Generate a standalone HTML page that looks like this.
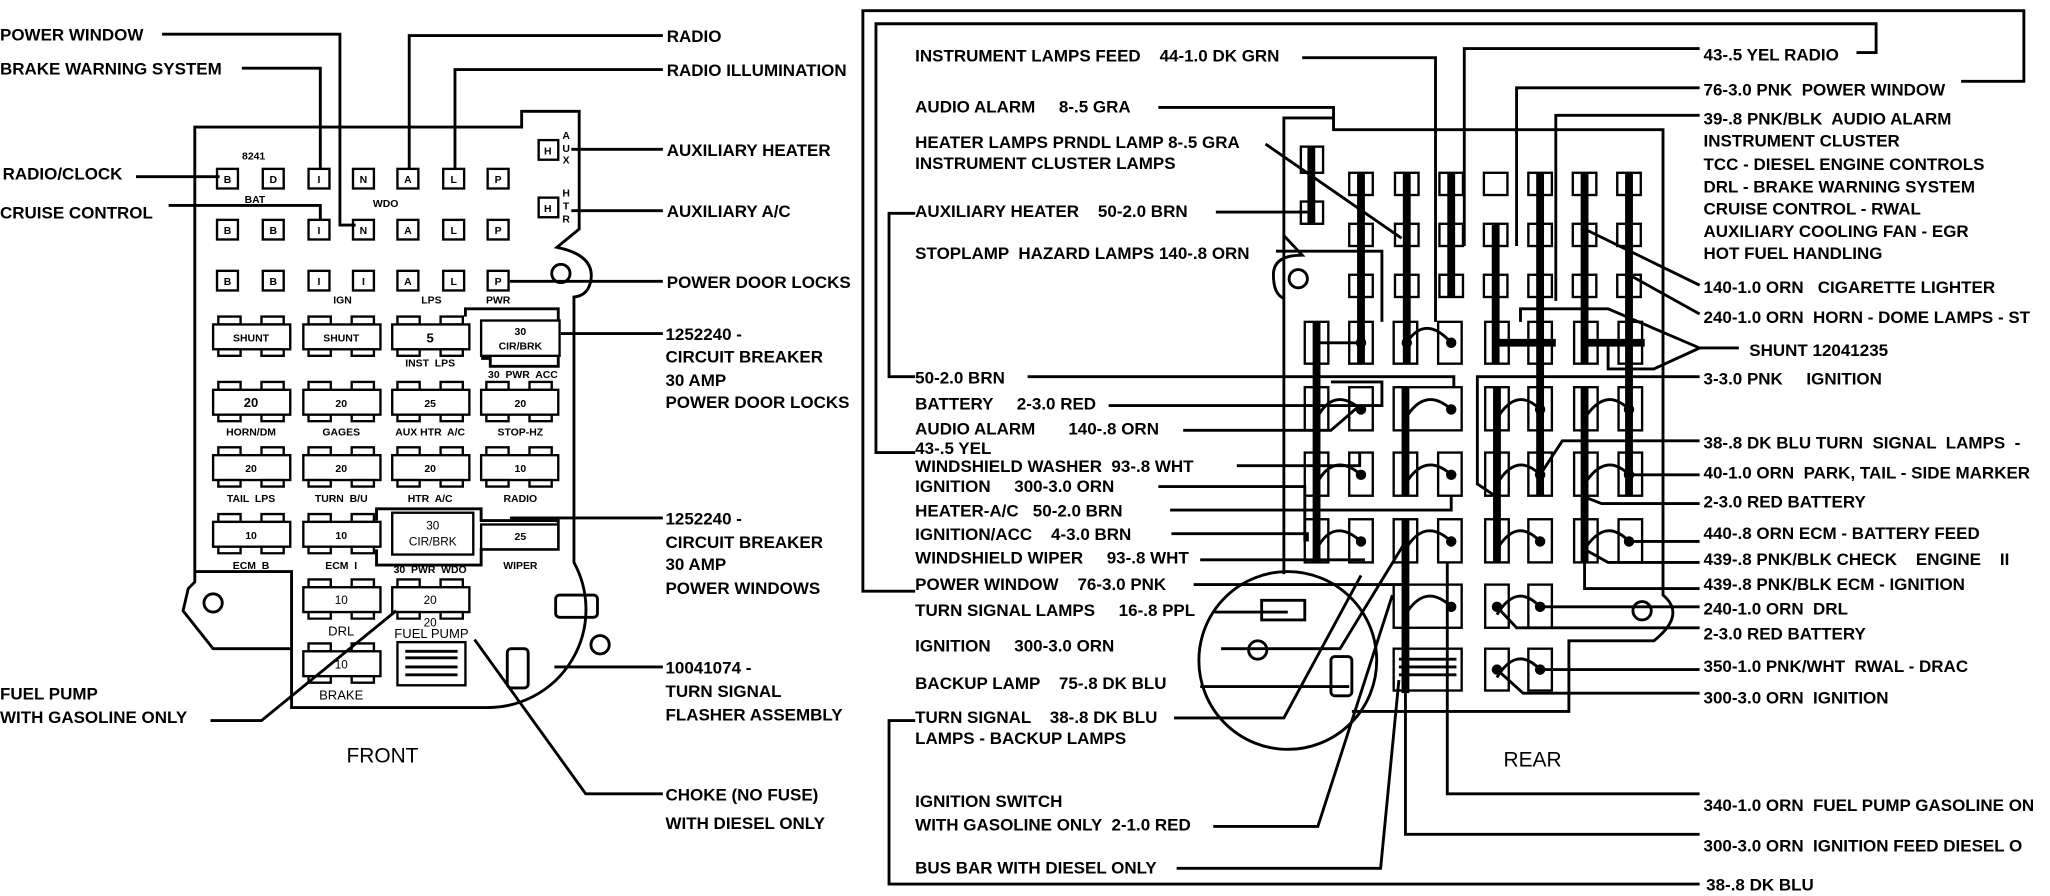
<!DOCTYPE html>
<html><head><meta charset="utf-8"><style>
html,body{margin:0;padding:0;background:#fff}
svg{display:block}
text{font-family:"Liberation Sans",sans-serif;font-size:13px;font-weight:bold;fill:#000;white-space:pre}
.s{font-size:8px}
.l{fill:none;stroke:#000;stroke-width:2.2}
.t{fill:none;stroke:#000;stroke-width:6}
.b{fill:#fff;stroke:#000;stroke-width:1.8}
</style></head><body>
<svg width="2050" height="896" viewBox="0 0 1568 685" xmlns="http://www.w3.org/2000/svg" xml:space="preserve">
<rect width="1568" height="685" fill="#fff"/>

<!-- ================= LEFT (FRONT) ================= -->
<path class="l" stroke-width="3" d="M149,445 L149,97 L399,97 L399,85 L443,85 L443,175 L426,189 Q455,195 452,214 Q450,226 439,227 L439,430 A75,75 0 0 1 373,541 L223,541 L223,496 L163,496 L140,467 L144,450 Z"/>
<path class="l" d="M149,437 L223,437 L223,496"/>
<circle cx="163" cy="461" r="7" class="l"/>
<circle cx="429" cy="209" r="7" class="l"/>
<circle cx="459" cy="493" r="7" class="l"/>
<rect x="425" y="455" width="32" height="17" rx="3" class="l"/>
<rect x="388" y="496" width="16" height="30" rx="3" class="l"/>

<g>
<rect class="b" x="166" y="129" width="16" height="15"/><rect class="b" x="201" y="129" width="16" height="15"/><rect class="b" x="236" y="129" width="16" height="15"/><rect class="b" x="270" y="129" width="16" height="15"/><rect class="b" x="304" y="129" width="16" height="15"/><rect class="b" x="339" y="129" width="16" height="15"/><rect class="b" x="373" y="129" width="16" height="15"/>
<rect class="b" x="166" y="168" width="16" height="15"/><rect class="b" x="201" y="168" width="16" height="15"/><rect class="b" x="236" y="168" width="16" height="15"/><rect class="b" x="270" y="168" width="16" height="15"/><rect class="b" x="304" y="168" width="16" height="15"/><rect class="b" x="339" y="168" width="16" height="15"/><rect class="b" x="373" y="168" width="16" height="15"/>
<rect class="b" x="166" y="207" width="16" height="15"/><rect class="b" x="201" y="207" width="16" height="15"/><rect class="b" x="236" y="207" width="16" height="15"/><rect class="b" x="270" y="207" width="16" height="15"/><rect class="b" x="304" y="207" width="16" height="15"/><rect class="b" x="339" y="207" width="16" height="15"/><rect class="b" x="373" y="207" width="16" height="15"/>
<rect class="b" x="412" y="107" width="15" height="15"/><rect class="b" x="412" y="151" width="15" height="15"/>
</g>
<g text-anchor="middle">
<text x="174" y="140" class="s">B</text><text x="209" y="140" class="s">D</text><text x="244" y="140" class="s">I</text><text x="278" y="140" class="s">N</text><text x="312" y="140" class="s">A</text><text x="347" y="140" class="s">L</text><text x="381" y="140" class="s">P</text>
<text x="174" y="179" class="s">B</text><text x="209" y="179" class="s">B</text><text x="244" y="179" class="s">I</text><text x="278" y="179" class="s">N</text><text x="312" y="179" class="s">A</text><text x="347" y="179" class="s">L</text><text x="381" y="179" class="s">P</text>
<text x="174" y="218" class="s">B</text><text x="209" y="218" class="s">B</text><text x="244" y="218" class="s">I</text><text x="278" y="218" class="s">I</text><text x="312" y="218" class="s">A</text><text x="347" y="218" class="s">L</text><text x="381" y="218" class="s">P</text>
<text x="419" y="118" class="s">H</text><text x="419" y="162" class="s">H</text>
<text x="194" y="122" class="s">8241</text><text x="195" y="155" class="s">BAT</text><text x="295" y="158" class="s">WDO</text>
<text x="262" y="232" class="s">IGN</text><text x="330" y="232" class="s">LPS</text><text x="381" y="232" class="s">PWR</text>
<text x="433" y="106" class="s">A</text><text x="433" y="116" class="s">U</text><text x="433" y="125" class="s">X</text>
<text x="433" y="150" class="s">H</text><text x="433" y="160" class="s">T</text><text x="433" y="170" class="s">R</text>
</g>

<g>
<path class="b" d="M167,242h17v6h-17zM200,242h17v6h-17z"/><rect class="b" x="163" y="248" width="59" height="19"/><path class="b" d="M167,267h17v5h-17zM200,267h17v5h-17z"/>
<path class="b" d="M236,242h17v6h-17zM269,242h17v6h-17z"/><rect class="b" x="232" y="248" width="59" height="19"/><path class="b" d="M236,267h17v5h-17zM269,267h17v5h-17z"/>
<path class="b" d="M304,242h17v6h-17zM337,242h17v6h-17z"/><rect class="b" x="300" y="248" width="59" height="19"/><path class="b" d="M304,267h17v5h-17zM337,267h17v5h-17z"/>
<path class="l" d="M356,242 L356,236 L427,236 L427,280 L375,280 L375,274 L368,274"/><rect class="b" x="368" y="245" width="60" height="27"/>
<text x="192" y="261" class="s" text-anchor="middle">SHUNT</text><text x="261" y="261" class="s" text-anchor="middle">SHUNT</text><text x="329" y="262" text-anchor="middle" style="font-size:10px">5</text>
<text x="398" y="256" class="s" text-anchor="middle">30</text><text x="398" y="267" class="s" text-anchor="middle">CIR/BRK</text>
<text x="329" y="280" class="s" text-anchor="middle">INST  LPS</text><text x="400" y="289" class="s" text-anchor="middle">30  PWR  ACC</text>
<path class="b" d="M167,292h17v6h-17zM200,292h17v6h-17z"/><rect class="b" x="163" y="298" width="59" height="19"/><path class="b" d="M167,317h17v5h-17zM200,317h17v5h-17z"/>
<path class="b" d="M236,292h17v6h-17zM269,292h17v6h-17z"/><rect class="b" x="232" y="298" width="59" height="19"/><path class="b" d="M236,317h17v5h-17zM269,317h17v5h-17z"/>
<path class="b" d="M304,292h17v6h-17zM337,292h17v6h-17z"/><rect class="b" x="300" y="298" width="59" height="19"/><path class="b" d="M304,317h17v5h-17zM337,317h17v5h-17z"/>
<path class="b" d="M372,292h17v6h-17zM405,292h17v6h-17z"/><rect class="b" x="368" y="298" width="59" height="19"/><path class="b" d="M372,317h17v5h-17zM405,317h17v5h-17z"/>
<text x="192" y="311" text-anchor="middle" style="font-size:10px">20</text><text x="261" y="311" class="s" text-anchor="middle">20</text><text x="329" y="311" class="s" text-anchor="middle">25</text><text x="398" y="311" class="s" text-anchor="middle">20</text>
<text x="192" y="333" class="s" text-anchor="middle">HORN/DM</text><text x="261" y="333" class="s" text-anchor="middle">GAGES</text><text x="329" y="333" class="s" text-anchor="middle">AUX HTR  A/C</text><text x="398" y="333" class="s" text-anchor="middle">STOP-HZ</text>
<path class="b" d="M167,342h17v6h-17zM200,342h17v6h-17z"/><rect class="b" x="163" y="348" width="59" height="19"/><path class="b" d="M167,367h17v5h-17zM200,367h17v5h-17z"/>
<path class="b" d="M236,342h17v6h-17zM269,342h17v6h-17z"/><rect class="b" x="232" y="348" width="59" height="19"/><path class="b" d="M236,367h17v5h-17zM269,367h17v5h-17z"/>
<path class="b" d="M304,342h17v6h-17zM337,342h17v6h-17z"/><rect class="b" x="300" y="348" width="59" height="19"/><path class="b" d="M304,367h17v5h-17zM337,367h17v5h-17z"/>
<path class="b" d="M372,342h17v6h-17zM405,342h17v6h-17z"/><rect class="b" x="368" y="348" width="59" height="19"/><path class="b" d="M372,367h17v5h-17zM405,367h17v5h-17z"/>
<text x="192" y="361" class="s" text-anchor="middle">20</text><text x="261" y="361" class="s" text-anchor="middle">20</text><text x="329" y="361" class="s" text-anchor="middle">20</text><text x="398" y="361" class="s" text-anchor="middle">10</text>
<text x="192" y="384" class="s" text-anchor="middle">TAIL  LPS</text><text x="261" y="384" class="s" text-anchor="middle">TURN  B/U</text><text x="329" y="384" class="s" text-anchor="middle">HTR  A/C</text><text x="398" y="384" class="s" text-anchor="middle">RADIO</text>
<path class="l" d="M288,398 L288,389 L368,389 L368,398 L427,398 L427,420 L368,420 L368,432 L288,432 L288,420"/>
<path class="b" d="M167,393h17v6h-17zM200,393h17v6h-17z"/><rect class="b" x="163" y="399" width="59" height="19"/><path class="b" d="M167,418h17v5h-17zM200,418h17v5h-17z"/>
<path class="b" d="M236,393h17v6h-17zM269,393h17v6h-17z"/><rect class="b" x="232" y="399" width="59" height="19"/><path class="b" d="M236,418h17v5h-17zM269,418h17v5h-17z"/>
<rect class="b" x="300" y="392" width="62" height="32"/>
<rect class="b" x="368" y="401" width="59" height="19"/>
<text x="192" y="412" class="s" text-anchor="middle">10</text><text x="261" y="412" class="s" text-anchor="middle">10</text><text x="398" y="413" class="s" text-anchor="middle">25</text>
<text x="331" y="405" text-anchor="middle" style="font-size:9px;font-weight:normal">30</text><text x="331" y="417" text-anchor="middle" style="font-size:9px;font-weight:normal">CIR/BRK</text>
<text x="192" y="435" class="s" text-anchor="middle">ECM  B</text><text x="261" y="435" class="s" text-anchor="middle">ECM  I</text><text x="329" y="438" class="s" text-anchor="middle">30  PWR  WDO</text><text x="398" y="435" class="s" text-anchor="middle">WIPER</text>
<path class="b" d="M236,443h17v6h-17zM269,443h17v6h-17z"/><rect class="b" x="232" y="449" width="59" height="19"/><path class="b" d="M236,468h17v5h-17zM269,468h17v5h-17z"/>
<path class="b" d="M304,443h17v6h-17zM337,443h17v6h-17z"/><rect class="b" x="300" y="449" width="59" height="19"/><path class="b" d="M304,468h17v5h-17zM337,468h17v5h-17z"/>
<text x="261" y="462" text-anchor="middle" style="font-size:9px;font-weight:normal">10</text><text x="329" y="462" text-anchor="middle" style="font-size:9px;font-weight:normal">20</text>
<text x="261" y="486" text-anchor="middle" style="font-size:10px;font-weight:normal">DRL</text><text x="329" y="479" text-anchor="middle" style="font-size:9px;font-weight:normal">20</text>
<text x="330" y="488" text-anchor="middle" style="font-size:10px;font-weight:normal">FUEL PUMP</text>
<path class="b" d="M236,492h17v6h-17zM269,492h17v6h-17z"/><rect class="b" x="232" y="498" width="59" height="19"/><path class="b" d="M236,517h17v5h-17zM269,517h17v5h-17z"/>
<text x="261" y="511" text-anchor="middle" style="font-size:9px;font-weight:normal">10</text><text x="261" y="535" text-anchor="middle" style="font-size:10px;font-weight:normal">BRAKE</text>
<rect class="b" x="304" y="491" width="52" height="33"/><path class="l" d="M310,498h40M310,503h40M310,510h40M310,516h40" stroke-width="1.5"/>
</g>

<path class="l" d="M124,26 H260 V172 H272"/>
<path class="l" d="M185,52 H245 V129"/>
<path class="l" d="M104,135 H168"/>
<path class="l" d="M129,157 H245 V168"/>
<path class="l" d="M313,129 V27 H507"/>
<path class="l" d="M348,129 V53 H507"/>
<path class="l" d="M437,114 H507"/>
<path class="l" d="M437,161 H507"/>
<path class="l" d="M390,215 H507"/>
<path class="l" d="M429,255 H507"/>
<path class="l" d="M390,396 H507"/>
<path class="l" d="M424,510 H507"/>
<path class="l" d="M363,489 L448,607 H507"/>
<path class="l" d="M161,551 H200 L303,467"/>

<text x="0" y="31">POWER WINDOW</text>
<text x="0" y="57">BRAKE WARNING SYSTEM</text>
<text x="2" y="137">RADIO/CLOCK</text>
<text x="0" y="167">CRUISE CONTROL</text>
<text x="0" y="535">FUEL PUMP</text>
<text x="0" y="553">WITH GASOLINE ONLY</text>
<text x="510" y="32">RADIO</text>
<text x="510" y="58">RADIO ILLUMINATION</text>
<text x="510" y="119">AUXILIARY HEATER</text>
<text x="510" y="166">AUXILIARY A/C</text>
<text x="510" y="220">POWER DOOR LOCKS</text>
<text x="509" y="260">1252240 -</text>
<text x="509" y="277">CIRCUIT BREAKER</text>
<text x="509" y="295">30 AMP</text>
<text x="509" y="312">POWER DOOR LOCKS</text>
<text x="509" y="401">1252240 -</text>
<text x="509" y="419">CIRCUIT BREAKER</text>
<text x="509" y="436">30 AMP</text>
<text x="509" y="454">POWER WINDOWS</text>
<text x="509" y="515">10041074 -</text>
<text x="509" y="533">TURN SIGNAL</text>
<text x="509" y="551">FLASHER ASSEMBLY</text>
<text x="509" y="612">CHOKE (NO FUSE)</text>
<text x="509" y="634">WITH DIESEL ONLY</text>
<text x="265" y="583" style="font-size:16px;font-weight:normal">FRONT</text>

<!-- ================= RIGHT (REAR) ================= -->
<path class="l" stroke-width="3" d="M700,452 H660 V8 H1548 V62 H1500"/>
<path class="l" stroke-width="3" d="M700,346 H670 V18 H1435 V40 H1420"/>
<path class="l" d="M700,163 H680 V288 H700"/>
<path class="l" d="M700,551 H680 V676 H1300"/>

<path class="l" stroke-width="3" d="M982,439 V90 H1020 V99 H1272 V455 Q1290,470 1265,490 L1200,490 V544 H1034"/>
<path class="l" stroke-width="3" d="M982,180 L996,195 Q974,195 974,210 Q974,225 982,228"/>
<circle cx="993" cy="213" r="7" class="l"/>
<circle cx="985" cy="505" r="68" class="l"/>
<circle cx="962" cy="497" r="7" class="l"/>
<circle cx="1256" cy="467" r="7" class="l"/>
<rect x="965" y="459" width="33" height="15" class="l" stroke-width="1.8"/>
<rect x="1018" y="502" width="16" height="30" rx="3" class="l" stroke-width="1.8"/>

<g>
<rect class="b" x="995" y="112" width="17" height="20"/><rect class="b" x="995" y="154" width="17" height="17"/>
<rect class="b" x="1032" y="132" width="18" height="17"/><rect class="b" x="1067" y="132" width="18" height="17"/><rect class="b" x="1101" y="132" width="18" height="17"/><rect class="b" x="1135" y="132" width="18" height="17"/><rect class="b" x="1169" y="132" width="18" height="17"/><rect class="b" x="1203" y="132" width="18" height="17"/><rect class="b" x="1237" y="132" width="18" height="17"/>
<rect class="b" x="1032" y="171" width="18" height="17"/><rect class="b" x="1067" y="171" width="18" height="17"/><rect class="b" x="1101" y="171" width="18" height="17"/><rect class="b" x="1135" y="171" width="18" height="17"/><rect class="b" x="1169" y="171" width="18" height="17"/><rect class="b" x="1203" y="171" width="18" height="17"/><rect class="b" x="1237" y="171" width="18" height="17"/>
<rect class="b" x="1032" y="210" width="18" height="17"/><rect class="b" x="1067" y="210" width="18" height="17"/><rect class="b" x="1101" y="210" width="18" height="17"/><rect class="b" x="1135" y="210" width="18" height="17"/><rect class="b" x="1169" y="210" width="18" height="17"/><rect class="b" x="1203" y="210" width="18" height="17"/><rect class="b" x="1237" y="210" width="18" height="17"/>
</g>
<g>
<rect class="b" x="998" y="246" width="18" height="32"/><rect class="b" x="1032" y="246" width="18" height="32"/><rect class="b" x="1066" y="246" width="18" height="32"/><rect class="b" x="1100" y="246" width="18" height="32"/><rect class="b" x="1136" y="246" width="18" height="32"/><rect class="b" x="1169" y="246" width="18" height="32"/><rect class="b" x="1204" y="246" width="18" height="32"/><rect class="b" x="1238" y="246" width="18" height="32"/>
<rect class="b" x="998" y="296" width="18" height="33"/><rect class="b" x="1032" y="296" width="18" height="33"/><rect class="b" x="1066" y="296" width="52" height="33"/><rect class="b" x="1136" y="296" width="18" height="33"/><rect class="b" x="1169" y="296" width="18" height="33"/><rect class="b" x="1204" y="296" width="18" height="33"/><rect class="b" x="1238" y="296" width="18" height="33"/>
<rect class="b" x="998" y="346" width="18" height="33"/><rect class="b" x="1032" y="346" width="18" height="33"/><rect class="b" x="1066" y="346" width="18" height="33"/><rect class="b" x="1100" y="346" width="18" height="33"/><rect class="b" x="1136" y="346" width="18" height="33"/><rect class="b" x="1169" y="346" width="18" height="33"/><rect class="b" x="1204" y="346" width="18" height="33"/><rect class="b" x="1238" y="346" width="18" height="33"/>
<rect class="b" x="998" y="397" width="18" height="33"/><rect class="b" x="1032" y="397" width="18" height="33"/><rect class="b" x="1066" y="397" width="18" height="33"/><rect class="b" x="1100" y="397" width="18" height="33"/><rect class="b" x="1136" y="397" width="18" height="33"/><rect class="b" x="1169" y="397" width="18" height="33"/><rect class="b" x="1204" y="397" width="18" height="33"/><rect class="b" x="1238" y="397" width="18" height="33"/>
<rect class="b" x="1066" y="447" width="52" height="33"/><rect class="b" x="1136" y="447" width="18" height="33"/><rect class="b" x="1169" y="447" width="18" height="33"/>
<rect class="b" x="1066" y="496" width="52" height="32"/><path class="l" d="M1070,504h44M1070,510h44M1070,516h44" stroke-width="1.5"/>
<rect class="b" x="1136" y="496" width="18" height="32"/><rect class="b" x="1169" y="496" width="18" height="32"/>
</g>
<g>
<path class="t" d="M1003,112V171"/>
<path class="t" d="M1041,132V278"/>
<path class="t" d="M1076,132V278"/>
<path class="t" d="M1110,132V227"/>
<path class="t" d="M1144,171V278"/>
<path class="t" d="M1178,132V379"/>
<path class="t" d="M1212,132V278"/>
<path class="t" d="M1246,132V379"/>
<path class="t" d="M1007,246V430"/>
<path class="t" d="M1075,296V379"/>
<path class="t" d="M1075,397V530" stroke-width="5"/>
<path class="t" d="M1145,296V430"/>
<path class="t" d="M1212,296V430"/>
<path class="t" d="M1144,262H1190M1212,262H1258" stroke-width="5"/>
</g>
<g fill="#000">
<circle cx="1041" cy="262" r="4"/><circle cx="1076" cy="262" r="4"/><circle cx="1110" cy="262" r="4"/>
<circle cx="1041" cy="313" r="4"/><circle cx="1110" cy="313" r="4"/><circle cx="1178" cy="313" r="4"/><circle cx="1246" cy="313" r="4"/>
<circle cx="1041" cy="363" r="4"/><circle cx="1110" cy="363" r="4"/><circle cx="1178" cy="363" r="4"/><circle cx="1246" cy="363" r="4"/>
<circle cx="1041" cy="414" r="4"/><circle cx="1110" cy="414" r="4"/><circle cx="1178" cy="414" r="4"/><circle cx="1246" cy="414" r="4"/>
<circle cx="1110" cy="464" r="4"/><circle cx="1145" cy="464" r="4"/><circle cx="1178" cy="464" r="4"/>
<circle cx="1145" cy="512" r="4"/><circle cx="1178" cy="512" r="4"/>
</g>
<g class="l" stroke-width="1.8">
<path d="M1007,262H1041"/><path d="M1076,262Q1090,240 1110,262"/>
<path d="M1007,320Q1020,295 1041,313"/><path d="M1075,320Q1090,295 1110,313"/><path d="M1145,320Q1160,295 1178,313"/><path d="M1212,320Q1228,295 1246,313"/>
<path d="M1007,370Q1020,345 1041,363"/><path d="M1075,370Q1090,345 1110,363"/><path d="M1145,370Q1160,345 1178,363"/><path d="M1212,370Q1228,345 1246,363"/>
<path d="M1007,420Q1020,395 1041,414"/><path d="M1075,420Q1090,395 1110,414"/><path d="M1145,420Q1160,395 1178,414"/><path d="M1212,420Q1228,395 1246,414"/>
<path d="M1075,470Q1090,445 1110,464"/><path d="M1145,470Q1160,445 1178,464"/>
<path d="M1145,518Q1160,493 1178,512"/>
</g>

<g class="l">
<path d="M996,44 H1098 V246"/>
<path d="M886,82 H1020 V92"/>
<path d="M968,110 L1072,182"/>
<path d="M930,162 H1000"/>
<path d="M976,192 H1057 V246"/>
<path d="M786,288 H1112 V296"/>
<path d="M848,310 H1057 V292 H1018"/>
<path d="M905,329 H1018 L1040,310"/>
<path d="M946,356 H1040 V346"/>
<path d="M886,372 H998 V414"/>
<path d="M895,390 H1110 V379"/>
<path d="M896,408 H1000 V414"/>
<path d="M918,428 H1044"/>
<path d="M913,447 H1072"/>
<path d="M929,468 H985"/>
<path d="M934,496 H1025 L1075,414"/>
<path d="M918,525 H1032"/>
<path d="M898,549 H982 L1041,440"/>
<path d="M928,632 H1008 L1065,455"/>
<path d="M900,664 H1056 L1070,520"/>
<path d="M1107,430 V607 H1300"/>
<path d="M1075,530 V638 H1300"/>
</g>
<g class="l">
<path d="M1120,188 V37 H1300"/>
<path d="M1160,188 V67 H1300"/>
<path d="M1190,230 V88 H1300"/>
<path d="M1212,175 L1300,218"/>
<path d="M1246,210 L1300,240"/>
<path d="M1163,246 V236 H1230 L1300,266 L1265,282 H1230 V262"/>
<path d="M1300,266 H1330"/>
<path d="M1300,288 H1130 V370 L1145,380"/>
<path d="M1300,337 H1195 L1178,363"/>
<path d="M1246,363 H1300"/>
<path d="M1212,380 L1225,385 H1300"/>
<path d="M1246,414 H1300"/>
<path d="M1212,420 L1230,430 H1300"/>
<path d="M1212,430 V450 H1300"/>
<path d="M1178,464 H1300"/>
<path d="M1145,464 L1160,480 H1300"/>
<path d="M1178,512 H1300"/>
<path d="M1145,512 L1165,530 H1300"/>
</g>

<text x="700" y="47">INSTRUMENT LAMPS FEED    44-1.0 DK GRN</text>
<text x="700" y="86">AUDIO ALARM     8-.5 GRA</text>
<text x="700" y="113">HEATER LAMPS PRNDL LAMP 8-.5 GRA</text>
<text x="700" y="129">INSTRUMENT CLUSTER LAMPS</text>
<text x="700" y="166">AUXILIARY HEATER    50-2.0 BRN</text>
<text x="700" y="198">STOPLAMP  HAZARD LAMPS 140-.8 ORN</text>
<text x="700" y="293">50-2.0 BRN</text>
<text x="700" y="313">BATTERY     2-3.0 RED</text>
<text x="700" y="332">AUDIO ALARM       140-.8 ORN</text>
<text x="700" y="347">43-.5 YEL</text>
<text x="700" y="361">WINDSHIELD WASHER  93-.8 WHT</text>
<text x="700" y="376">IGNITION     300-3.0 ORN</text>
<text x="700" y="395">HEATER-A/C   50-2.0 BRN</text>
<text x="700" y="413">IGNITION/ACC    4-3.0 BRN</text>
<text x="700" y="431">WINDSHIELD WIPER     93-.8 WHT</text>
<text x="700" y="451">POWER WINDOW    76-3.0 PNK</text>
<text x="700" y="471">TURN SIGNAL LAMPS     16-.8 PPL</text>
<text x="700" y="498">IGNITION     300-3.0 ORN</text>
<text x="700" y="527">BACKUP LAMP    75-.8 DK BLU</text>
<text x="700" y="553">TURN SIGNAL    38-.8 DK BLU</text>
<text x="700" y="569">LAMPS - BACKUP LAMPS</text>
<text x="700" y="617">IGNITION SWITCH</text>
<text x="700" y="635">WITH GASOLINE ONLY  2-1.0 RED</text>
<text x="700" y="668">BUS BAR WITH DIESEL ONLY</text>

<text x="1303" y="46">43-.5 YEL RADIO</text>
<text x="1303" y="73">76-3.0 PNK  POWER WINDOW</text>
<text x="1303" y="95">39-.8 PNK/BLK  AUDIO ALARM</text>
<text x="1303" y="112">INSTRUMENT CLUSTER</text>
<text x="1303" y="130">TCC - DIESEL ENGINE CONTROLS</text>
<text x="1303" y="147">DRL - BRAKE WARNING SYSTEM</text>
<text x="1303" y="164">CRUISE CONTROL - RWAL</text>
<text x="1303" y="181">AUXILIARY COOLING FAN - EGR</text>
<text x="1303" y="198">HOT FUEL HANDLING</text>
<text x="1303" y="224">140-1.0 ORN   CIGARETTE LIGHTER</text>
<text x="1303" y="247">240-1.0 ORN  HORN - DOME LAMPS - ST</text>
<text x="1338" y="272">SHUNT 12041235</text>
<text x="1303" y="294">3-3.0 PNK     IGNITION</text>
<text x="1303" y="343">38-.8 DK BLU TURN  SIGNAL  LAMPS  -</text>
<text x="1303" y="366">40-1.0 ORN  PARK, TAIL - SIDE MARKER</text>
<text x="1303" y="388">2-3.0 RED BATTERY</text>
<text x="1303" y="412">440-.8 ORN ECM - BATTERY FEED</text>
<text x="1303" y="432">439-.8 PNK/BLK CHECK    ENGINE    II</text>
<text x="1303" y="451">439-.8 PNK/BLK ECM - IGNITION</text>
<text x="1303" y="470">240-1.0 ORN  DRL</text>
<text x="1303" y="489">2-3.0 RED BATTERY</text>
<text x="1303" y="514">350-1.0 PNK/WHT  RWAL - DRAC</text>
<text x="1303" y="538">300-3.0 ORN  IGNITION</text>
<text x="1303" y="620">340-1.0 ORN  FUEL PUMP GASOLINE ON</text>
<text x="1303" y="651">300-3.0 ORN  IGNITION FEED DIESEL O</text>
<text x="1305" y="681">38-.8 DK BLU</text>
<text x="1150" y="586" style="font-size:16px;font-weight:normal">REAR</text>
</svg>
</body></html>
